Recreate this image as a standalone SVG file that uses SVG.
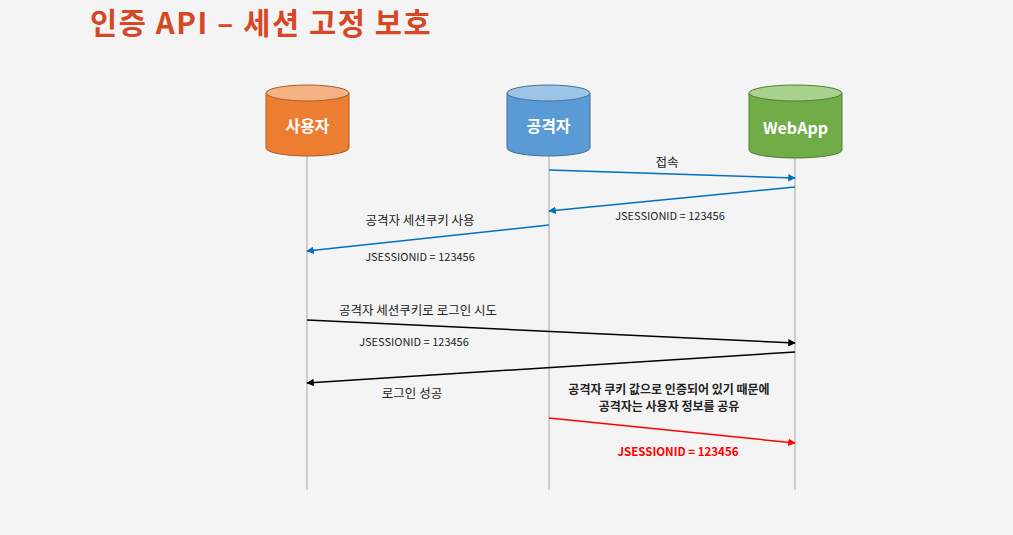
<svg xmlns="http://www.w3.org/2000/svg" width="1013" height="535" viewBox="0 0 1013 535">
<defs>
<style>
.t{font-family:"Noto Sans CJK KR","Noto Sans",sans-serif;font-size:11px;fill:#222;text-anchor:middle}
.k{font-size:12.5px}
.b{font-weight:bold;font-size:12px}
.nl{font-family:"Noto Sans CJK KR","Noto Sans",sans-serif;font-size:16px;font-weight:bold;fill:#fff;text-anchor:middle}
.life{stroke:#c0c0c0;stroke-width:1.5}
</style>
<marker id="ab" viewBox="0 0 10 10" refX="9" refY="5" markerWidth="5" markerHeight="5" orient="auto"><path d="M0,0L10,5L0,10z" fill="#0070c0"/></marker>
<marker id="ak" viewBox="0 0 10 10" refX="9" refY="5" markerWidth="5" markerHeight="5" orient="auto"><path d="M0,0L10,5L0,10z" fill="#000"/></marker>
<marker id="ar" viewBox="0 0 10 10" refX="9" refY="5" markerWidth="5" markerHeight="5" orient="auto"><path d="M0,0L10,5L0,10z" fill="#ff0000"/></marker>
</defs>
<rect width="1013" height="535" fill="#f4f4f4"/>
<text x="90" y="34" font-family="Noto Sans CJK KR,Noto Sans,sans-serif" font-size="29.5" font-weight="bold" fill="#d64726" letter-spacing="1.6">인증 API – 세션 고정 보호</text>
<g id="lifelines">
<line class="life" x1="307" y1="156" x2="307" y2="490"/>
<line class="life" x1="549" y1="156" x2="549" y2="490"/>
<line class="life" x1="795" y1="158" x2="795" y2="490"/>
</g>
<g id="node-user">
<path d="M266,93 V148 A41.5,8 0 0 0 349,148 V93" fill="#ed7d31" stroke="#ae5a21" stroke-width="1"/>
<ellipse cx="307.5" cy="93" rx="41.5" ry="8" fill="#f4b183" stroke="#ae5a21" stroke-width="1"/>
<text class="nl" x="307.5" y="132">사용자</text>
</g>
<g id="node-attacker">
<path d="M507,93 V148 A41.5,8 0 0 0 590,148 V93" fill="#5b9bd5" stroke="#41719c" stroke-width="1"/>
<ellipse cx="548.5" cy="93" rx="41.5" ry="8" fill="#9dc3e6" stroke="#41719c" stroke-width="1"/>
<text class="nl" x="548.5" y="132">공격자</text>
</g>
<g id="node-webapp">
<path d="M749,93 V150 A46.5,8 0 0 0 842,150 V93" fill="#70ad47" stroke="#507e32" stroke-width="1"/>
<ellipse cx="795.5" cy="93" rx="46.5" ry="8" fill="#a9d18e" stroke="#507e32" stroke-width="1"/>
<text class="nl" x="795.5" y="134">WebApp</text>
</g>
<g id="connectors">
<line x1="549" y1="170" x2="795" y2="178" stroke="#0070c0" stroke-width="1.5" marker-end="url(#ab)"/>
<line x1="795" y1="187" x2="549" y2="211" stroke="#0070c0" stroke-width="1.5" marker-end="url(#ab)"/>
<line x1="549" y1="225" x2="307" y2="251" stroke="#0070c0" stroke-width="1.5" marker-end="url(#ab)"/>
<line x1="307" y1="320" x2="795" y2="343" stroke="#000" stroke-width="1.5" marker-end="url(#ak)"/>
<line x1="795" y1="352" x2="307" y2="383" stroke="#000" stroke-width="1.5" marker-end="url(#ak)"/>
<line x1="549" y1="418" x2="795" y2="443" stroke="#ff0000" stroke-width="1.5" marker-end="url(#ar)"/>
</g>
<g id="labels">
<text class="t k" x="667" y="167">접속</text>
<text class="t" x="670" y="220">JSESSIONID = 123456</text>
<text class="t k" x="420" y="225">공격자 세션쿠키 사용</text>
<text class="t" x="420" y="261">JSESSIONID = 123456</text>
<text class="t k" x="418" y="315">공격자 세션쿠키로  로그인 시도</text>
<text class="t" x="414" y="346">JSESSIONID = 123456</text>
<text class="t k" x="412" y="398">로그인 성공</text>
<text class="t b" x="669" y="394">공격자 쿠키 값으로 인증되어 있기 때문에</text>
<text class="t b" x="669" y="411">공격자는 사용자 정보를 공유</text>
<text class="t b" x="678" y="456" style="fill:#ff0000;font-size:11.5px">JSESSIONID = 123456</text>
</g>
</svg>
